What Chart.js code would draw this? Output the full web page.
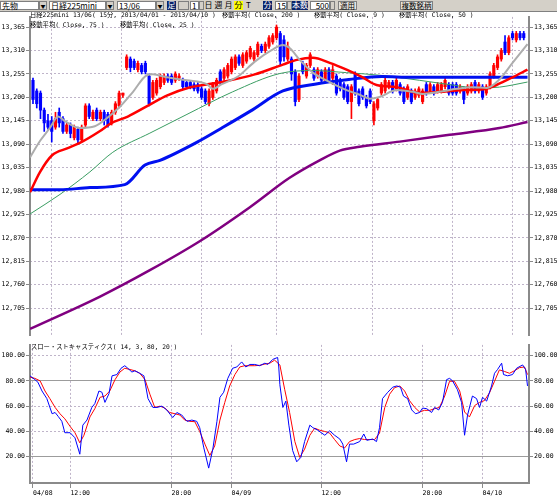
<!DOCTYPE html>
<html>
<head>
<meta charset="utf-8">
<script src="https://cdn.jsdelivr.net/npm/chart.js@4.4.1/dist/chart.umd.min.js"></script>
<style>
  html, body { margin: 0; padding: 0; background: #fff; }
  body { width: 557px; height: 499px; position: relative; overflow: hidden; }
  #toolbar { position: absolute; left: 0; top: 0; width: 557px; height: 11px; background: #d4d0c8; border-bottom: 1px solid #808080; font: 8px "Noto Sans CJK JP", sans-serif; }
  #toolbar span { position: absolute; top: 1px; height: 9px; line-height: 7px; box-sizing: border-box; white-space: nowrap; }
  .fld { background: #fff; border: 1px solid #7f7f7f; padding-left: 1px; }
  .arr { background: #d4d0c8; border: 1px solid #7f7f7f; text-align: center; font-size: 5px; }
  .spin { background: #d4d0c8; border: 1px solid #7f7f7f; }
  .dk { background: #0a246a; color: #fff; text-align: center; }
  .btn { background: #e6e4de; border: 1px solid #808080; text-align: center; font-size: 7.5px; }
  .tx { text-align: center; }
  canvas { position: absolute; left: 0; }
</style>
</head>
<body>
<div id="toolbar">
  <span class="fld" style="left:0;width:39px">先物</span>
  <span class="arr" style="left:39px;width:8px">▼</span>
  <span class="fld" style="left:49px;width:57px">日経225mini</span>
  <span class="arr" style="left:106px;width:8px">▼</span>
  <span class="fld" style="left:117px;width:39px">13/06</span>
  <span class="arr" style="left:156px;width:8px">▼</span>
  <span class="dk" style="left:167px;width:9px">足</span>
  <span class="spin" style="left:178px;width:11px"></span>
  <span class="fld" style="left:190px;width:9px">1</span>
  <span class="spin" style="left:199px;width:5px"></span>
  <span class="tx" style="left:204px;width:9px">日</span>
  <span class="tx" style="left:214px;width:9px">週</span>
  <span class="tx" style="left:224px;width:9px">月</span>
  <span class="tx" style="left:234px;width:9px;background:#ffff00">分</span>
  <span class="tx" style="left:244px;width:9px">T</span>
  <span class="dk" style="left:263px;width:9px">分</span>
  <span class="fld" style="left:275px;width:12px;text-align:right">15</span>
  <span class="spin" style="left:287px;width:5px"></span>
  <span class="dk" style="left:292px;width:16px">本数</span>
  <span class="fld" style="left:310px;width:20px;text-align:right">500</span>
  <span class="spin" style="left:330px;width:5px"></span>
  <span class="btn" style="left:338px;width:19px">適用</span>
  <span class="btn" style="left:400px;width:33px">複数銘柄</span>
</div>
<canvas id="main" width="557" height="328" style="top:12px"></canvas>
<canvas id="stoch" width="557" height="159" style="top:340px"></canvas>
<script>
// 15-minute bars, 04/08 09:30 .. 04/10 02:45 (bar index 0..131)
const timeTickIdx = [0, 10, 37, 53, 77, 104, 120];
const timeTickText = ['04/08', '12:00', '20:00', '04/09', '12:00', '20:00', '04/10'];
const priceTicks = [13365, 13310, 13255, 13200, 13145, 13090, 13035, 12980, 12925, 12870, 12815, 12760, 12705];
const stochTicks = [100, 80, 60, 40, 20];

const openP = [13240,13215,13210,13170,13145,13145,13130,13165,13150,13120,13135,13105,13125,13100,13135,13180,13150,13170,13150,13165,
  13160,13140,13165,13180,13205,13270,13290,13285,13265,13275,13280,13250,13200,13210,13225,13235,13250,13250,13240,13245,
  13240,13235,13235,13230,13230,13220,13215,13185,13200,13215,13260,13245,13250,13260,13270,13295,13275,13285,13295,13290,
  13300,13320,13310,13320,13330,13340,13350,13335,13290,13290,13260,13195,13280,13250,13275,13265,13250,13260,13240,13265,
  13245,13250,13240,13230,13225,13190,13255,13215,13220,13200,13215,13145,13175,13210,13215,13225,13235,13220,13230,13220,
  13200,13215,13200,13205,13190,13230,13215,13225,13215,13215,13225,13230,13230,13230,13215,13220,13210,13215,13235,13215,
  13225,13210,13225,13250,13270,13290,13330,13305,13350,13335,13350,13350];
const highP = [13245,13220,13215,13175,13160,13155,13165,13175,13155,13140,13140,13135,13130,13135,13185,13185,13170,13175,13170,13170,
  13165,13170,13190,13215,13210,13300,13295,13290,13285,13280,13285,13255,13240,13245,13255,13255,13255,13255,13260,13255,
  13245,13240,13240,13235,13235,13225,13220,13220,13235,13245,13265,13270,13280,13295,13300,13300,13305,13310,13320,13310,
  13330,13325,13330,13345,13350,13370,13355,13345,13330,13295,13265,13255,13285,13280,13305,13270,13270,13265,13270,13270,
  13275,13255,13245,13235,13230,13230,13260,13220,13225,13205,13220,13190,13200,13235,13245,13240,13240,13245,13235,13225,
  13230,13220,13220,13225,13220,13235,13235,13230,13235,13235,13245,13235,13235,13235,13230,13225,13230,13235,13240,13235,
  13230,13230,13260,13280,13300,13315,13345,13345,13355,13355,13355,13355];
const lowP = [13185,13175,13150,13120,13125,13095,13125,13130,13115,13115,13105,13100,13090,13095,13130,13150,13145,13145,13145,13135,
  13130,13135,13160,13175,13200,13265,13260,13265,13260,13255,13255,13180,13195,13205,13220,13230,13235,13230,13235,13240,
  13220,13220,13220,13215,13210,13195,13185,13180,13195,13210,13230,13240,13245,13255,13265,13275,13270,13280,13290,13285,
  13295,13305,13305,13315,13325,13335,13275,13285,13285,13240,13180,13190,13255,13245,13270,13240,13245,13235,13235,13235,
  13230,13205,13215,13195,13185,13150,13205,13180,13195,13175,13185,13135,13170,13205,13210,13220,13210,13215,13205,13185,
  13195,13185,13195,13200,13185,13205,13210,13205,13210,13210,13220,13205,13205,13205,13210,13185,13205,13210,13210,13210,
  13195,13205,13220,13245,13265,13285,13300,13300,13335,13330,13335,13335];
const closeP = [13195,13185,13170,13140,13130,13120,13150,13140,13120,13135,13115,13130,13100,13130,13180,13155,13165,13150,13165,13145,
  13135,13165,13185,13210,13210,13295,13270,13270,13280,13260,13260,13185,13235,13240,13250,13250,13240,13235,13255,13250,
  13225,13225,13225,13220,13215,13200,13190,13215,13230,13240,13235,13265,13275,13290,13295,13280,13300,13305,13315,13305,
  13325,13310,13325,13340,13345,13365,13285,13295,13320,13255,13190,13250,13260,13275,13300,13245,13265,13240,13265,13240,
  13265,13210,13220,13200,13190,13225,13210,13185,13200,13180,13190,13185,13195,13230,13240,13235,13215,13240,13210,13190,
  13225,13190,13215,13220,13215,13210,13230,13210,13230,13230,13240,13210,13210,13210,13225,13195,13225,13230,13215,13230,
  13200,13225,13255,13275,13295,13310,13305,13340,13340,13350,13340,13340];

// moving averages: [bar index, price]
const ma9 = [[-0.8,13059],[1.9,13098],[4.5,13128],[6.7,13155],[8.5,13144],[12.5,13128],[16.5,13132],[19.7,13151],[23.2,13178],[26.7,13213],
  [30.4,13252],[32,13254],[35.7,13247],[41.1,13240],[46.4,13231],[48,13220],[50.4,13231],[54.7,13249],[59.2,13284],[63.7,13311],
  [66.7,13323],[68.5,13316],[71.2,13288],[74.7,13258],[79.2,13236],[83.7,13217],[87.2,13206],[89.9,13197],[92.5,13201],[97.1,13217],
  [101.3,13213],[104,13208],[108.5,13213],[113.1,13220],[117.3,13224],[121.1,13222],[124.5,13242],[128,13281],[132,13325]];
const ma25 = [[-0.8,12977],[1.9,13025],[5.1,13064],[9.1,13080],[12.5,13093],[17.9,13121],[20.8,13139],[25.3,13155],[31.2,13183],[35.7,13204],
  [41.3,13222],[50.4,13236],[59.2,13254],[66.7,13277],[70.4,13288],[74.7,13293],[79.2,13281],[83.7,13265],[88,13247],[91.7,13229],
  [97.1,13224],[103.2,13210],[108.5,13213],[114.7,13217],[121.1,13220],[123.7,13229],[128,13247],[132,13265]];
const ma50 = [[-0.8,12983],[7.2,12983],[15.2,12988],[24.5,12995],[29.9,13041],[33.9,13052],[44.5,13098],[50.4,13128],[57.9,13167],[66.7,13215],
  [75.2,13231],[84.3,13242],[93.1,13249],[101.1,13247],[111.2,13247],[124.5,13247],[132,13247]];
const ma75 = [[-0.8,12926],[7.2,12972],[15.2,13025],[21.3,13071],[31.2,13116],[41.1,13160],[53.3,13213],[65.9,13256],[74.7,13263],[83.7,13258],
  [92.5,13252],[103.2,13240],[110.4,13231],[119.2,13222],[124.5,13224],[128,13229],[132,13236]];
const ma200 = [[-0.8,12656],[17.9,12732],[31.2,12794],[44.5,12862],[57.9,12942],[68.5,13011],[76.5,13052],[81.9,13075],[87.2,13084],[97.9,13096],
  [111.2,13112],[124.5,13128],[132,13142]];

// slow stochastics (14, 3, 80, 20): [bar index, value]
const stochK = [[-0.8,84],[0.5,81],[1.3,79],[2.4,72],[3.7,66],[5.1,54],[5.9,55],[6.7,52],[7.7,48],[8.5,39],[9.9,39],[11.2,35],[12.5,22],
  [13.3,45],[14.4,49],[15.7,59],[16.5,62],[17.6,72],[18.4,71],[19.2,63],[20.3,70],[21.1,84],[22.4,85],[23.5,90],[24.5,92],[25.3,90],
  [26.4,87],[27.2,88],[28.5,86],[29.6,84],[30.7,66],[32,59],[33.1,59],[34.4,60],[35.7,57],[37.3,51],[38.4,55],[39.7,53],[41.1,48],
  [42.4,49],[43.7,48],[44.5,43],[45.6,27],[46.9,11],[48,26],[49.1,48],[49.9,67],[50.9,71],[52,82],[53.3,90],[54.4,91],[55.7,95],
  [56.8,91],[57.9,93],[59.2,93],[60.5,92],[61.9,94],[62.7,93],[64,97],[65.3,98.5],[65.6,91],[65.9,77],[66.7,59],[67.5,64],[68.3,45],
  [69.3,25],[70.4,16],[71.5,19.5],[72.5,32],[73.9,45],[74.7,43],[76,41],[77.9,37],[79.2,40.5],[80.5,37],[81.9,34],[82.7,30],[83.7,16],
  [84.5,30],[85.6,30],[87.2,32],[88.3,38],[89.1,33],[90.7,34],[91.7,32],[92.5,43],[93.3,66],[94.7,71],[96,75],[97.1,76],[98.1,75],
  [98.9,68],[100,66],[101.1,57],[102.1,54],[103.2,55],[104,58.5],[105.1,58],[106.4,55],[107.2,59],[108.3,57],[109.3,63],[110.4,81],
  [111.2,82],[112,80],[113.3,73],[114.4,63],[115.2,37],[116,53],[117.3,68],[118.4,66],[119.2,59],[120,67],[121.1,64],[122.4,76],
  [123.2,86],[124,89],[125.1,94],[125.6,85],[126.7,84],[128,85],[129.1,90],[130.7,92.6],[131.5,89],[132,76]];
const stochD = [[-0.8,83],[0.5,82],[1.9,80],[3.2,72],[4.5,66],[5.9,59],[7.2,54],[8.5,50],[9.9,44],[11.2,39],[12.5,31],[13.6,37],[15.2,51.5],
  [16.5,58],[17.9,67],[19.2,68],[20.5,72],[21.9,81],[23.2,87],[24.5,90],[25.9,89],[27.2,88],[28.5,86],[29.9,81],[31.2,69.5],[32.5,59],
  [33.9,60],[35.2,58.5],[36.5,55],[37.9,54],[39.2,53],[40.5,49],[41.9,48],[43.2,47.7],[44.5,40],[45.9,30],[47.2,21],[48.5,28.5],
  [49.9,49],[51.2,63],[52.5,76],[53.9,85],[55.2,91],[56.5,92],[57.9,92],[59.2,92],[60.5,92.3],[61.9,93.3],[63.2,94],[64.5,96.4],
  [65.9,92.6],[67.2,73],[68.5,55],[69.9,32],[71.2,19.5],[72.5,26],[73.9,37],[75.2,42.6],[76.5,41],[77.9,40],[79.2,38.7],[80.5,33.6],
  [81.9,28.5],[83.2,27],[84.5,32],[85.9,33.6],[87.2,34.4],[88.5,33.6],[89.9,33.6],[91.2,33.6],[92.5,38.7],[93.9,59],[95.2,69.5],
  [96.5,74.6],[97.9,76],[99.2,72],[100.5,64.4],[101.9,59],[103.2,55.4],[104.5,56.7],[105.9,56.7],[107.2,58],[108.5,59],[109.9,68],
  [111.2,79.7],[112.5,79.7],[113.9,72],[115.2,55.4],[116.5,51.5],[117.9,60.5],[119.2,63],[120.5,64.4],[121.9,70.8],[123.2,79.7],
  [124.5,88.7],[125.9,87.4],[127.2,86],[128.5,88],[129.9,90.5],[131.2,91],[132,85]];

const mainHeader = ['日経225mini 13/06( 15分, 2013/04/01 - 2013/04/10 )', '移動平均( Close, 200 )', '移動平均( Close, 9 )',
  '移動平均( Close, 50 )', '移動平均( Close, 75 )', '移動平均( Close, 25 )'];
const stochHeader = ['スロー・ストキャスティクス( 14, 3, 80, 20 )'];

const TICK_FONT = { family: '"DejaVu Sans Mono", monospace', size: 6.5 };
const DOT = '#bfb4c9';
const AXIS = '#8a8a8a';

const headerPlugin = {
  id: 'header',
  afterDraw(chart, args, opts) {
    const c = chart.ctx;
    c.save();
    c.font = '6.3px "DejaVu Sans Mono", "Noto Sans CJK JP"';
    c.fillStyle = '#000';
    c.textBaseline = 'middle';
    opts.texts.forEach((t, i) => c.fillText(t, opts.pos[i][0], opts.pos[i][1]));
    c.restore();
  }
};

function timeAxis(labels) {
  return {
    type: 'linear', min: -0.8, max: 132.4, offset: false, bounds: 'data',
    afterBuildTicks: s => { s.ticks = timeTickIdx.map(v => ({ value: v })); },
    afterFit: s => { s.height = labels ? 16 : 0; },
    ticks: { display: labels, autoSkip: false, maxRotation: 0, align: 'start', padding: 1, color: '#000', font: TICK_FONT,
      callback: (v, i) => timeTickText[i] },
    grid: { color: DOT, drawTicks: labels, tickLength: 5, tickColor: AXIS },
    border: { display: labels, color: AXIS, width: 2, dash: [2, 2] }
  };
}

function valueAxis(side, min, max, tickList, fmt, special) {
  const isSpecial = ctx => !!(special && ctx.tick && special.includes(ctx.tick.value));
  return {
    position: side, min: min, max: max,
    afterBuildTicks: s => { s.ticks = tickList.map(v => ({ value: v })); },
    afterFit: s => { s.width = side === 'left' ? 30 : 28; },
    ticks: { autoSkip: false, padding: 1, color: '#000', font: TICK_FONT, callback: fmt },
    grid: { drawOnChartArea: side === 'right', tickLength: 4, tickColor: AXIS,
      color: ctx => isSpecial(ctx) ? '#9c9c9c' : DOT },
    border: { color: AXIS, width: 2, dash: ctx => isSpecial(ctx) ? [] : [2, 2] }
  };
}

function curve(points, color, width, order, yId, smooth) {
  return {
    type: 'line', data: points.map(p => ({ x: p[0], y: p[1] })), borderColor: color, borderWidth: width,
    pointRadius: 0, order: order, xAxisID: 'x', yAxisID: yId,
    cubicInterpolationMode: smooth ? 'monotone' : 'default', tension: 0
  };
}

const candleColor = closeP.map((c, i) => c >= openP[i] ? '#ff0000' : '#0000ff');
const priceFmt = v => v.toLocaleString('en-US');
const stochFmt = v => v.toFixed(2);

new Chart(document.getElementById('main'), {
  type: 'bar',
  data: {
    datasets: [
      curve(ma9, '#adadad', 2, 1, 'yR', true),
      curve(ma25, '#ff0000', 2.5, 2, 'yR', true),
      curve(ma50, '#0010f0', 3, 3, 'yR', true),
      curve(ma75, '#3a9d62', 1, 4, 'yR', true),
      curve(ma200, '#800080', 2.5, 5, 'yR', true),
      { type: 'bar', data: openP.map((o, i) => ({ x: i, y: [o, closeP[i]] })), backgroundColor: candleColor,
        barThickness: 2.5, grouped: false, order: 10, xAxisID: 'x', yAxisID: 'yR' },
      { type: 'bar', data: lowP.map((l, i) => ({ x: i, y: [l, highP[i]] })), backgroundColor: candleColor,
        barThickness: 1, grouped: false, order: 11, xAxisID: 'x', yAxisID: 'yR' }
    ]
  },
  options: {
    responsive: false, animation: false, devicePixelRatio: 1,
    layout: { padding: { top: 1, bottom: 0, left: 0, right: 0 } },
    plugins: {
      legend: { display: false }, tooltip: { enabled: false },
      header: { texts: mainHeader, pos: [[30, 3.5], [222, 3.5], [314, 3.5], [399, 3.5], [30, 13.5], [120, 13.5]] }
    },
    scales: {
      x: timeAxis(false),
      yL: valueAxis('left', 12641.5, 13389, priceTicks, priceFmt),
      yR: valueAxis('right', 12641.5, 13389, priceTicks, priceFmt)
    }
  },
  plugins: [headerPlugin]
});

new Chart(document.getElementById('stoch'), {
  type: 'line',
  data: {
    datasets: [
      curve(stochK, '#0000ff', 1, 1, 'yR', false),
      curve(stochD, '#ff0000', 1, 2, 'yR', false)
    ]
  },
  options: {
    responsive: false, animation: false, devicePixelRatio: 1,
    layout: { padding: { top: 1, bottom: 0, left: 0, right: 0 } },
    plugins: {
      legend: { display: false }, tooltip: { enabled: false },
      header: { texts: stochHeader, pos: [[31, 7]] }
    },
    scales: {
      x: timeAxis(true),
      yL: valueAxis('left', -0.77, 108.46, stochTicks, stochFmt, [80, 20]),
      yR: valueAxis('right', -0.77, 108.46, stochTicks, stochFmt, [80, 20])
    }
  },
  plugins: [headerPlugin]
});
</script>
</body>
</html>
